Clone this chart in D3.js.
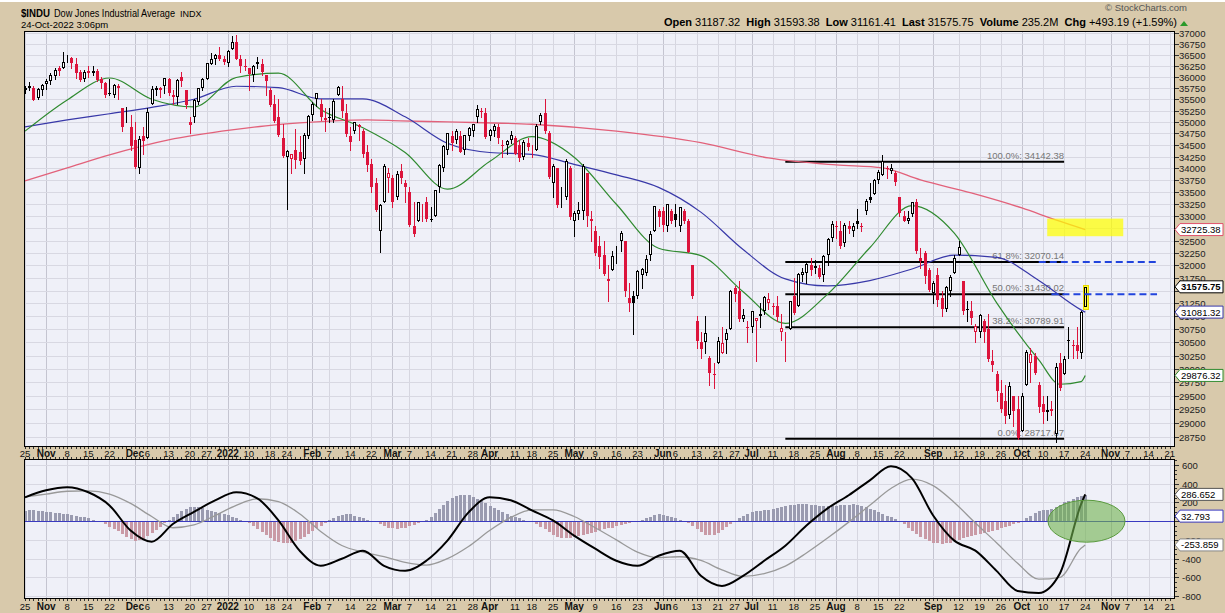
<!DOCTYPE html>
<html><head><meta charset="utf-8">
<script src="https://cdn.jsdelivr.net/npm/d3@7"></script>
<style>body{margin:0;background:#fff}svg{display:block}text{font-family:"Liberation Sans",Arial,sans-serif}</style>
</head><body><svg id="c" width="1225" height="613"></svg>
<script>
// ---------------- DATA ----------------
const firstDay = "2021-10-25";
const lastAxisDay = "2022-11-21";
const holidays = ["2021-11-25","2021-12-24","2022-01-17","2022-02-21","2022-04-15","2022-05-30","2022-06-20","2022-07-04","2022-09-05"];
const prevClose = 35677.02;
const opens = [
35700,35800,35757,35530,35700,35833,35900,36030,36200,36200,
36400,36430,36300,36100,35950,36140,36080,36140,35950,35860,
35650,35600,35750,35300,35100,34900,34600,34000,34700,34650,
35400,35700,35700,35800,35950,35600,35550,36000,35700,35000,
35100,35450,35750,35950,36300,36400,36500,36400,36320,36640,
36800,36400,36250,36200,36050,36330,36300,36050,35700,35400,
35100,34650,34250,34200,34400,34350,34200,34700,35150,35500,
35400,35050,35100,35050,35600,35500,35200,34700,34800,34900,
34800,34350,34100,33700,32700,33300,33800,33800,33400,33950,
33700,33500,32800,32900,33150,33300,32950,33000,33600,34000,
34400,34700,34600,34700,34400,34700,34800,35100,35250,35200,
34700,34800,34900,34500,34500,34600,34650,34500,34250,34550,
34400,34400,35000,35200,34750,33700,34000,33300,33400,34000,
32900,33050,33100,33900,32950,32700,32400,32200,31700,31900,
32200,32500,32500,31350,31400,31400,31800,31850,32200,32700,
33100,33100,32800,33100,33050,32800,33100,32900,32000,30900,
30500,30500,30200,29900,30100,30300,30550,30750,31550,31500,
30950,30800,30800,30900,31000,31100,31250,31200,31200,30700,
30600,30750,31400,31200,31800,31850,32000,31950,31950,31800,
32200,32550,32800,32700,32450,32800,32700,32900,32800,33100,
33400,33450,33750,33850,34000,33950,33900,33400,33000,32900,
33050,33300,32150,32250,31900,31450,31800,31350,31150,31500,
31850,32200,31700,31150,31100,30700,30700,30900,30750,30150,
29900,29550,29400,29150,29500,29250,28850,29700,30100,30250,
29700,29350,29200,29250,28800,30100,29900,30550,30450,30450,
30300,31187.32];
const highs = [
35787,35892,35800,35755,35830,35960,36080,36190,36250,36565,
36490,36450,36430,36150,36150,36250,36250,36180,35990,35880,
35950,35850,35850,35300,35330,35150,35000,34700,34900,35300,
35800,35800,35770,35980,35980,35700,35950,36100,35700,35100,
35500,35760,35970,36310,36530,36520,36680,36480,36600,36930,
36952,36500,36400,36200,36260,36440,36400,36050,35750,35600,
35500,34950,34400,34300,34850,34700,34750,35150,35450,35650,
35500,35300,35300,35500,35800,35800,35400,34900,35000,34950,
34850,34500,34200,33800,33250,34100,34000,33850,33950,34100,
33750,33600,33300,33300,33250,33400,33200,33550,34100,34500,
34760,34800,34850,34800,34720,34900,34960,35370,35300,35300,
34850,34950,34950,34600,34600,34800,34700,34600,34600,34650,
34500,34950,35200,35500,34800,34100,34000,33600,34200,34050,
33100,33300,34100,33900,33100,32800,32600,32500,32000,32300,
32400,32700,32500,31650,31500,31900,31950,32200,32700,33220,
33150,33200,33250,33150,33250,33200,33150,32950,32000,31000,
30700,31000,30250,30100,30600,30800,30750,31520,31600,31700,
31150,30900,31100,30970,31250,31400,31450,31250,31400,31050,
30700,31300,31750,31850,31950,32050,32150,32100,32000,32200,
32550,32900,32900,32900,32850,32900,32850,33150,32850,33350,
33700,33770,33960,34281,34050,34100,33950,33400,33100,33100,
33300,33350,32350,32300,31950,31700,31950,31500,31600,31800,
32200,32500,31700,31300,31300,30850,31050,30950,31050,30350,
29950,29800,29700,29750,29500,29500,29550,30350,30400,30300,
29750,29500,29500,29400,30100,30300,30250,30800,30550,30800,
31100,31593.38];
const lows = [
35639,35700,35490,35500,35600,35739,35850,35950,36050,36200,
36330,36200,35980,35900,35900,36000,36050,35900,35750,35560,
35600,35550,35500,34800,35000,34400,34000,33900,34300,34650,
35400,35600,35560,35650,35600,35400,35400,35800,35300,34750,
35000,35400,35700,35950,36300,36300,36390,36300,36250,36630,
36400,36100,36150,35700,35900,36200,36050,35600,35350,35000,
34700,34250,33150,33900,34000,34100,33900,34650,35050,35350,
35050,34800,35000,35000,35600,35100,34700,34400,34750,34600,
34250,33950,33500,33100,32272,33300,33500,33200,33350,33700,
33300,32800,32600,32900,32900,32900,32900,33000,33500,33950,
34300,34400,34550,34350,34300,34600,34700,35000,35100,34650,
34600,34700,34550,34250,34300,34550,34300,34150,34200,34400,
34250,34400,34950,34750,33800,33400,33200,33200,33350,32950,
32600,32950,32950,32800,32500,32200,31950,31800,31300,31900,
32050,32300,31400,31100,30650,31350,31550,31800,32100,32700,
32800,32700,32700,32850,32800,32700,32850,32270,31350,30400,
30200,30300,29700,29650,30100,30300,30300,30750,31300,30900,
30900,30500,30700,30150,30800,31050,31150,31050,30900,30550,
30150,30750,31050,31200,31700,31650,31800,31850,31750,31700,
32000,32500,32550,32350,32400,32650,32600,32750,32700,33050,
33300,33450,33700,33850,33800,33900,33650,33000,32900,32850,
33000,32250,31950,31650,31500,31250,31200,31000,31100,31400,
31850,32200,31050,30900,30850,30500,30600,30500,30150,29950,
29400,29200,29000,29100,28950,28716,28850,29700,29750,29900,
29200,29000,29050,29150,28660,29600,29900,30200,30200,30200,
30200,31161.41];
const closes = [
35741,35757,35490,35731,35820,35913,36053,36158,36124,36328,
36432,36320,36080,35921,36100,36087,36142,35931,35871,35602,
35619,35814,35804,34899,35136,34484,34022,34640,34580,35227,
35719,35754.75,35754.69,35971,35650,35544,35927,35898,35365,34932,
35493,35754,35950,36302,36398,36488,36398,36338,36585,36800,
36407,36236,36231,36068,36252,36290,36114,35912,35368,35029,
34715,34265,34365,34298,34168,34160,34725,35132,35405,35630,
35111,35089,35091,35463,35768,35241,34738,34566,34989,34935,
34312,34079,33597,33131,33224,34059,33893,33295,33891,33795,
33615,32818,32633,33286,33174,32944,32945,33545,34063,34481,
34755,34553,34808,34359,34708,34862,34955,35295,35229,34678,
34818,34922,34641,34497,34583,34721,34308,34221,34565,34451,
34412,34911,35161,34793,33811,34049,33240,33302,34160,32977,
33062,33129,34061,32998,32899,32246,32161,31834,31730,32197,
32223,32655,31490,31253,31262,31880,31929,32120,32637,33213,
32990,32813,33248,32900,32916,33180,32910,32273,31393,30517,
30365,30669,29927,29889,30530,30484,30677,31501,31438,30947,
31029,30775,31097,30968,31037,31385,31338,31173,30981,30773,
30630,31289,31073,31828,31875,32037,31900,31990,31762,32198,
32530,32845,32798,32397,32813,32727,32803,32833,32775,33310,
33337,33761,33913,34152,33981,33999,33706,33064,32910,32970,
33292,32283,32099,31791,31510,31656,31318,31145,31581,31775,
32151,32381,31105,31135,30962,30822,31020,30706,30184,30077,
29590,29261,29135,29684,29226,28726,29490,30317,30274,29927,
29297,29203,29240,29211,30039,29635,30186,30524,30424,30334,
31083,31575.75];

// moving averages, sampled [trading-day index, value]
const sma20 = [[0,34800],[10,35486],[20,35974],[30,35500],[40,35331],[50,35985],[60,36082],[70,35274],[80,34873],[90,34339],[100,33561],[110,34146],[120,34679],[130,34239],[140,33247],[150,32345],[160,32197],[170,31480],[180,30862],[190,31432],[200,32356],[210,33219],[220,32653],[230,31265],[240,30166],[245,29712],[250,29761],[251,29876.32]];
const sma50 = [[0,34892],[10,35044],[20,35180],[30,35320],[40,35500],[50,35790],[60,35758],[70,35510],[80,35508],[90,35113],[100,34538],[110,34339],[120,34300],[130,34086],[140,33864],[150,33599],[160,33084],[170,32320],[180,31733],[190,31593],[200,31700],[210,31930],[220,32207],[230,32163],[240,31700],[250,31125],[251,31081.32]];
const sma200 = [[0,33734],[10,34010],[20,34287],[34,34610],[49,34827],[57,34914],[65,34980],[73,35024],[81,35046],[89,35024],[100,35000],[120,34950],[140,34800],[160,34550],[176,34223],[192,34073],[203,34010],[212,33756],[224,33483],[236,33170],[244,32923],[251,32725.38]];

// MACD panel
const macdDays = [0,5,10,15,20,25,30,35,40,45,50,55,60,65,70,75,80,85,90,95,100,105,110,115,120,125,130,135,140,145,150,155,160,165,170,175,180,185,190,195,200,205,210,215,220,225,230,235,240,245,250,251];
const macdLine = [255,330,363,309,169,-100,-220,-30,100,223,309,245,8,-315,-477,-402,-315,-477,-531,-423,-208,94,255,223,115,8,-154,-294,-423,-477,-369,-315,-584,-692,-584,-423,-262,-46,137,277,437,588,458,61,-208,-315,-531,-746,-768,-560,180,286.652];
const signalLine = [260,290,320,325,290,190,50,-70,-40,60,170,240,210,80,-110,-260,-330,-380,-440,-470,-400,-270,-100,40,120,120,50,-70,-200,-330,-390,-380,-420,-520,-590,-560,-480,-340,-180,-10,170,350,450,380,200,-20,-230,-450,-620,-600,-290,-253.859];
const histogram = [
110,115,118,112,105,100,95,92,85,
80,75,68,60,50,40,30,18,
5,-15,-35,-60,-85,-110,-140,-175,-195,-210,-205,-190,-165,-130,-95,-60,-25,
10,45,80,110,135,150,155,150,140,125,110,95,85,75,65,50,35,18,
0,-25,-55,-85,-115,-150,-185,-210,-225,-235,-240,-230,-215,-195,-170,-140,-110,-80,-50,-20,
10,35,55,70,80,75,60,45,30,15,2,
-15,-35,-55,-70,-80,-85,-80,-70,-55,-40,-25,-8,
15,45,85,130,175,215,245,265,275,280,275,260,240,215,190,165,140,115,95,75,60,45,30,15,3,
-15,-35,-60,-90,-120,-150,-170,-180,-185,-180,-170,-160,-150,-140,-130,-115,-100,-90,-80,-70,-55,-40,-30,-20,-10,-3,
10,30,50,65,75,70,60,45,30,15,2,
-20,-50,-85,-120,-145,-155,-150,-130,-100,-65,
-30,5,35,60,80,95,105,110,115,120,130,140,150,160,170,175,180,182,180,175,170,165,160,158,160,165,170,175,178,180,175,165,150,135,120,100,80,60,40,20,
-5,-35,-70,-105,-140,-170,-195,-215,-230,-240,-245,-240,-230,-215,-200,-185,-170,-160,-150,-140,-130,-120,-110,-95,-80,-65,-50,-35,-20,
0,30,60,90,110,120,125,135,150,175,200,220,240,255,270,285];

// Fibonacci retracement
const fibPct = ["100.0%","61.8%","50.0%","38.2%","0.0%"];
const fibVals = [34142.38,32070.14,31430.02,30789.91,28717.67];
const fibFrom = "2022-07-14", fibTo = "2022-10-17";
const extLevels = [32070.14, 31430.02];
const extFrom = ["2022-10-07","2022-10-12"], extTo = "2022-11-16";
const boxFrom = "2022-10-11", boxTo = "2022-11-04", boxHi = 32950, boxLo = 32590;

// axis ticks
const tickDates = ["2021-10-25","2021-11-01","2021-11-08","2021-11-15","2021-11-22","2021-12-01","2021-12-06","2021-12-13","2021-12-20","2021-12-27","2022-01-03","2022-01-10","2022-01-18","2022-01-24","2022-02-01","2022-02-07","2022-02-14","2022-02-22","2022-03-01","2022-03-07","2022-03-14","2022-03-21","2022-03-28","2022-04-01","2022-04-11","2022-04-18","2022-04-25","2022-05-02","2022-05-09","2022-05-16","2022-05-23","2022-06-01","2022-06-06","2022-06-13","2022-06-21","2022-06-27","2022-07-01","2022-07-11","2022-07-18","2022-07-25","2022-08-01","2022-08-08","2022-08-15","2022-08-22","2022-09-01","2022-09-12","2022-09-19","2022-09-26","2022-10-03","2022-10-10","2022-10-17","2022-10-24","2022-11-01","2022-11-07","2022-11-14","2022-11-21"];
const tickLabels = ["25","Nov","8","15","22","Dec","6","13","20","27","2022","10","18","24","Feb","7","14","22","Mar","7","14","21","28","Apr","11","18","25","May","9","16","23","Jun","6","13","21","27","Jul","11","18","25","Aug","8","15","22","Sep","12","19","26","Oct","10","17","24","Nov","7","14","21"];
const priceTicks = d3.range(28750, 37001, 250);
const macdTicks = [600,400,200,0,-200,-400,-600,-800];
// axis labels fully covered by value tags in the reference
const hiddenPrice = [32750, 31500];
const hiddenMacd = [0];

// ---------------- LAYOUT ----------------
const W=1225,H=613, L=24, R=1175, mT=31, mB=447, sT=459, sB=599;
const TAN="#d8c9ab", PANEL="#eff0f8", RED="#dc143c";
const svg=d3.select("#c");

// trading calendar
const days=[]; {const hol=new Set(holidays); let d=new Date(firstDay+"T00:00:00Z"); const e=new Date(lastAxisDay+"T00:00:00Z");
 while(d<=e){const s=d.toISOString().slice(0,10), wd=d.getUTCDay(); if(wd&&wd!==6&&!hol.has(s)) days.push(s); d=new Date(d.getTime()+864e5);} }
const di={}; days.forEach((s,i)=>di[s]=i);

const x=d3.scaleLinear().domain([0,271]).range([25,25+271*4.224]);
const y=d3.scaleLog().domain([28570,37046]).range([mB,mT]);
const yM=d3.scaleLinear().domain([-832,665]).range([sB,sT]);

svg.append("rect").attr("width",W).attr("height",H).attr("fill",TAN);
svg.append("rect").attr("width",W).attr("height",2).attr("fill","#fff");
const defs=svg.append("defs");
defs.append("clipPath").attr("id","cm").append("rect").attr("x",L).attr("y",mT).attr("width",R-L).attr("height",mB-mT);
defs.append("clipPath").attr("id","cs").append("rect").attr("x",L).attr("y",sT).attr("width",R-L).attr("height",sB-sT);

[[mT,mB],[sT,sB]].forEach(([t,b])=>svg.append("rect").attr("x",L).attr("y",t).attr("width",R-L).attr("height",b-t).attr("fill",PANEL));

const isMonth = s=>isNaN(+s)||s==="2022";
const tx = tickDates.map(s=>Math.round(x(di[s]))+0.5);
[[mT,mB],[sT,sB]].forEach(([t,b])=>{
  svg.append("g").selectAll("line").data(tx).join("line")
   .attr("x1",d=>d).attr("x2",d=>d).attr("y1",t).attr("y2",b)
   .attr("stroke",(d,i)=>isMonth(tickLabels[i])?"#c4c4d0":"#d6d6e0").attr("stroke-width",1);
});
svg.append("g").selectAll("line").data(priceTicks).join("line")
 .attr("x1",L).attr("x2",R).attr("y1",d=>Math.round(y(d))+0.5).attr("y2",d=>Math.round(y(d))+0.5)
 .attr("stroke","#d8d8e2");
svg.append("g").selectAll("line").data(macdTicks).join("line")
 .attr("x1",L).attr("x2",R).attr("y1",d=>Math.round(yM(d))+0.5).attr("y2",d=>Math.round(yM(d))+0.5)
 .attr("stroke","#d8d8e2");

// ----- main panel content -----
const gm=svg.append("g").attr("clip-path","url(#cm)");
const f0=x(di[fibFrom]), f1=x(di[fibTo]);
fibVals.forEach((v,i)=>{
  gm.append("line").attr("x1",f0).attr("x2",f1).attr("y1",y(v)).attr("y2",y(v)).attr("stroke","#000").attr("stroke-width",2);
  gm.append("text").attr("x",f1).attr("y",y(v)-3).attr("text-anchor","end").attr("font-size",9.5).attr("fill","#777")
    .text(fibPct[i]+": "+v.toFixed(2));
});
const maLine=d3.line().x(d=>x(d[0])).y(d=>y(d[1])).curve(d3.curveMonotoneX);
gm.append("path").attr("d",maLine(sma200)).attr("fill","none").attr("stroke","#e2617a").attr("stroke-width",1.3);
gm.append("path").attr("d",maLine(sma50)).attr("fill","none").attr("stroke","#3838a8").attr("stroke-width",1.2);
gm.append("path").attr("d",maLine(sma20)).attr("fill","none").attr("stroke","#2f8a2f").attr("stroke-width",1.2);

const gc=gm.append("g").attr("shape-rendering","crispEdges");
closes.forEach((c,i)=>{
  const o=opens[i], pc=i?closes[i-1]:prevClose;
  const col=c>=pc?"#000":RED;
  const cx=Math.round(x(i));
  const last=i===closes.length-1;
  gc.append("line").attr("x1",cx+0.5).attr("x2",cx+0.5).attr("y1",Math.round(y(highs[i]))).attr("y2",Math.round(y(lows[i]))+1).attr("stroke",col);
  const t=Math.round(y(Math.max(o,c))), b=Math.round(y(Math.min(o,c)));
  if(c>o){
    if(last) gc.append("rect").attr("x",cx-2).attr("y",t-2).attr("width",5).attr("height",b-t+4).attr("fill","#ffff33").attr("stroke","#e8d800");
    gc.append("rect").attr("x",cx-0.5).attr("y",t+0.5).attr("width",2).attr("height",Math.max(0,b-t-1)).attr("fill",last?"#ffff66":"#fff").attr("stroke",col);
  } else {
    gc.append("rect").attr("x",cx-1).attr("y",t).attr("width",3).attr("height",Math.max(1,b-t)).attr("fill",col);
  }
});
extLevels.forEach((v,i)=>{
  gm.append("line").attr("x1",x(di[extFrom[i]])).attr("x2",x(di[extTo])).attr("y1",y(v)).attr("y2",y(v))
   .attr("stroke","#2244dd").attr("stroke-width",2).attr("stroke-dasharray","7,4");
});
gm.append("rect").attr("x",x(di[boxFrom])).attr("y",y(boxHi)).attr("width",x(di[boxTo])-x(di[boxFrom])).attr("height",y(boxLo)-y(boxHi))
 .attr("fill","#ffff00").attr("fill-opacity",0.72);

// ----- MACD panel -----
const gs=svg.append("g").attr("clip-path","url(#cs)");
gs.append("g").attr("shape-rendering","crispEdges").selectAll("rect").data(histogram).join("rect")
 .attr("x",(d,i)=>Math.round(x(i))-1).attr("width",3)
 .attr("y",d=>Math.round(Math.min(yM(d),yM(0)))).attr("height",d=>Math.max(1,Math.round(Math.abs(yM(d)-yM(0)))))
 .attr("fill",d=>d>=0?"#9a9bb0":"#c99aa6");
gs.append("line").attr("x1",L).attr("x2",R).attr("y1",Math.round(yM(0))+0.5).attr("y2",Math.round(yM(0))+0.5).attr("stroke","#3a3ac0");
const mLine=d3.line().x((d,i)=>x(macdDays[i])).y(d=>yM(d)).curve(d3.curveMonotoneX);
gs.append("path").attr("d",mLine(signalLine)).attr("fill","none").attr("stroke","#999").attr("stroke-width",1.3);
gs.append("path").attr("d",mLine(macdLine)).attr("fill","none").attr("stroke","#000").attr("stroke-width",2);
gs.append("ellipse").attr("cx",x(251.3)).attr("cy",yM(0)).attr("rx",38.5).attr("ry",21)
 .attr("fill","#6fb24f").attr("fill-opacity",0.6).attr("stroke","#5a9a3e").attr("stroke-width",1);

[[mT,mB],[sT,sB]].forEach(([t,b])=>svg.append("rect").attr("x",L+0.5).attr("y",t+0.5).attr("width",R-L-1).attr("height",b-t-1).attr("fill","none").attr("stroke","#000"));

// ----- x axis strips -----
[[mB,sT,457],[sB,613,610]].forEach(([t,b,base])=>{
  const g=svg.append("g").attr("shape-rendering","crispEdges");
  days.forEach((s,i)=>{const xx=Math.round(x(i))+0.5;
    g.append("line").attr("x1",xx).attr("x2",xx).attr("y1",t).attr("y2",t+2).attr("stroke","#333");
    if(b-t<14) g.append("line").attr("x1",xx).attr("x2",xx).attr("y1",b-2).attr("y2",b).attr("stroke","#333");
  });
  svg.append("g").selectAll("text").data(tickLabels).join("text")
   .attr("x",(d,i)=>x(di[tickDates[i]])).attr("y",base).attr("text-anchor","middle")
   .attr("font-size",d=>isMonth(d)?10:9.5).attr("font-weight",d=>isMonth(d)?"bold":"normal").attr("fill","#111").text(d=>d);
});

// ----- right axes -----
const ra=svg.append("g");
priceTicks.forEach(p=>{const yy=Math.round(y(p))+0.5;
  ra.append("line").attr("x1",R).attr("x2",R+4).attr("y1",yy).attr("y2",yy).attr("stroke","#333");
  if(!hiddenPrice.includes(p)) ra.append("text").attr("x",R+4).attr("y",yy+3.5).attr("font-size",9.5).attr("fill","#222").text(p);
});
d3.range(-800,651,50).forEach(v=>{const yy=Math.round(yM(v))+0.5;
  ra.append("line").attr("x1",R).attr("x2",R+(v%200===0?4:2)).attr("y1",yy).attr("y2",yy).attr("stroke","#333");});
macdTicks.forEach(v=>{const yy=Math.round(yM(v))+0.5;
  if(!hiddenMacd.includes(v)) ra.append("text").attr("x",R+7).attr("y",yy+3.5).attr("font-size",9.5).attr("fill","#222").text(v);
});
function tag(yy,txt,col,bold){
  const g=svg.append("g");
  g.append("path").attr("d",`M${R},${yy} L${R+5},${yy-6} L${W-2},${yy-6} L${W-2},${yy+6} L${R+5},${yy+6} Z`)
   .attr("fill","#fff").attr("stroke",col).attr("stroke-width",1);
  g.append("text").attr("x",R+6).attr("y",yy+3.5).attr("font-size",9.5).attr("font-weight",bold?"bold":"normal").attr("fill","#000").text(txt);
}
tag(y(32725.38),"32725.38","#e0506a");
tag(y(31575.75),"31575.75","#000",true);
tag(y(31081.32),"31081.32","#3838a8");
tag(y(29876.32),"29876.32","#2f8a2f");
tag(yM(286.652),"286.652","#555");
tag(yM(32.793)-2,"32.793","#3a3ac0");
tag(yM(-253.859),"-253.859","#888");

// ----- header -----
const hd=svg.append("g");
hd.append("text").attr("x",21).attr("y",17).attr("font-size",11.5).attr("font-weight","bold").attr("textLength",29).attr("lengthAdjust","spacingAndGlyphs").text("$INDU");
hd.append("text").attr("x",54).attr("y",17).attr("font-size",10).attr("textLength",121).attr("lengthAdjust","spacingAndGlyphs").text("Dow Jones Industrial Average");
hd.append("text").attr("x",180).attr("y",17).attr("font-size",9).text("INDX");
hd.append("text").attr("x",21).attr("y",28).attr("font-size",9.5).text("24-Oct-2022 3:06pm");
hd.append("text").attr("x",1187).attr("y",11).attr("text-anchor","end").attr("font-size",9.5).attr("fill","#555").text("\u00a9 StockCharts.com");
const info=hd.append("text").attr("x",1177).attr("y",26).attr("text-anchor","end").attr("font-size",11);
[["Open",1],[" 31187.32  ",0],["High",1],[" 31593.38  ",0],["Low",1],[" 31161.41  ",0],["Last",1],[" 31575.75  ",0],["Volume",1],[" 235.2M  ",0],["Chg",1],[" +493.19 (+1.59%)",0]]
 .forEach(([t,b])=>info.append("tspan").attr("font-weight",b?"bold":"normal").attr("xml:space","preserve").text(t));
hd.append("path").attr("d","M1180,26 L1184,21 L1188,26 Z").attr("fill","#2a9a2a");
</script></body></html>
